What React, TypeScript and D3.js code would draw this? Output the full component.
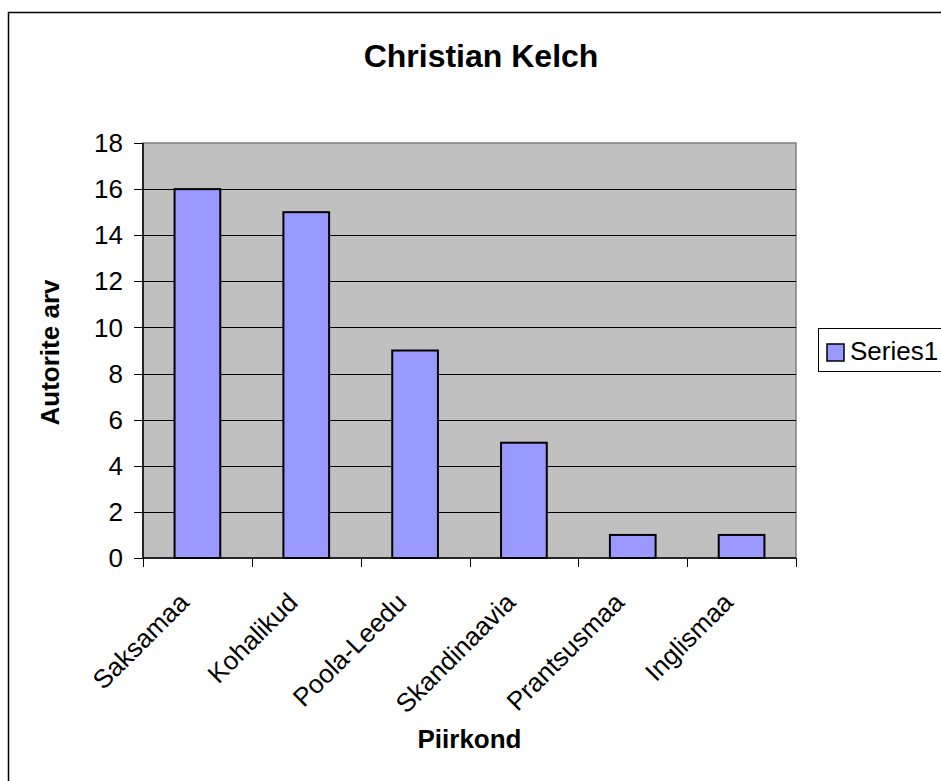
import React from "react";
import * as d3 from "d3";

const categories = ["Saksamaa", "Kohalikud", "Poola-Leedu", "Skandinaavia", "Prantsusmaa", "Inglismaa"];
const values = [16, 15, 9, 5, 1, 1];
const yTicks = [0, 2, 4, 6, 8, 10, 12, 14, 16, 18];
const title = "Christian Kelch";
const xTitle = "Piirkond";
const yTitle = "Autorite arv";
const seriesName = "Series1";

const W = 941;
const H = 781;
const plot = { left: 143, right: 796, top: 143, bottom: 558 };
const FONT = "Arial, 'Liberation Sans', sans-serif";
const FS = 26;

export default function App() {
  const x = d3.scaleBand<string>().domain(categories).range([plot.left, plot.right]).paddingInner(0).paddingOuter(0);
  const y = d3.scaleLinear().domain([0, 18]).range([plot.bottom, plot.top]);
  const bw = x.bandwidth();
  const barW = bw * 0.42;
  const boundaries = d3.range(categories.length + 1).map((i) => plot.left + i * bw);

  return (
    <svg width={W} height={H} style={{ position: "absolute", left: 0, top: 0, display: "block" }} fontFamily={FONT}>
      <rect x={0} y={0} width={W} height={H} fill="#fff" />
      <rect x={8.5} y={12.5} width={1200} height={1200} fill="#fff" stroke="#000" strokeWidth={1.5} />
      <text x={481} y={67} textAnchor="middle" fontSize={32} fontWeight="bold">{title}</text>

      {/* plot area */}
      <rect x={plot.left} y={plot.top} width={plot.right - plot.left} height={plot.bottom - plot.top} fill="#C0C0C0" stroke="#808080" strokeWidth={1.5} />
      {yTicks.filter((t) => t > 0 && t < 18).map((t) => (
        <line key={"g" + t} x1={plot.left} x2={plot.right} y1={Math.round(y(t)) + 0.5} y2={Math.round(y(t)) + 0.5} stroke="#000" strokeWidth={1} />
      ))}

      {/* bars */}
      {categories.map((c, i) => (
        <rect key={c} x={(x(c) as number) + (bw - barW) / 2} y={y(values[i])} width={barW} height={y(0) - y(values[i])} fill="#9999FF" stroke="#000" strokeWidth={2} />
      ))}

      {/* axes */}
      <line x1={plot.left} x2={plot.left} y1={plot.top} y2={plot.bottom} stroke="#000" strokeWidth={1.5} />
      <line x1={plot.left} x2={plot.right} y1={plot.bottom} y2={plot.bottom} stroke="#000" strokeWidth={1.5} />
      {yTicks.map((t) => (
        <g key={"y" + t}>
          <line x1={plot.left - 9} x2={plot.left} y1={Math.round(y(t)) + 0.5} y2={Math.round(y(t)) + 0.5} stroke="#000" strokeWidth={1} />
          <text x={123} y={y(t)} dy="0.35em" textAnchor="end" fontSize={FS}>{t}</text>
        </g>
      ))}
      {boundaries.map((bx, i) => (
        <line key={"xt" + i} x1={Math.round(bx) + 0.5} x2={Math.round(bx) + 0.5} y1={plot.bottom} y2={plot.bottom + 9} stroke="#000" strokeWidth={1} />
      ))}
      {categories.map((c) => {
        const cx = (x(c) as number) + bw / 2 - 7;
        const cy = 604;
        return (
          <text key={"l" + c} x={cx} y={cy} textAnchor="end" fontSize={FS} transform={`rotate(-45 ${cx} ${cy})`}>{c}</text>
        );
      })}

      <text x={(plot.left + plot.right) / 2} y={748} textAnchor="middle" fontSize={FS} fontWeight="bold">{xTitle}</text>
      <text transform={`translate(59 ${(plot.top + plot.bottom) / 2 + 2}) rotate(-90)`} textAnchor="middle" fontSize={FS} fontWeight="bold">{yTitle}</text>

      {/* legend */}
      <rect x={818.5} y={328.5} width={200} height={43} fill="#fff" stroke="#000" strokeWidth={1} />
      <rect x={827} y={344} width={17} height={17} fill="#9999FF" stroke="#000" strokeWidth={1.5} />
      <text x={850} y={360} fontSize={FS}>{seriesName}</text>
    </svg>
  );
}
